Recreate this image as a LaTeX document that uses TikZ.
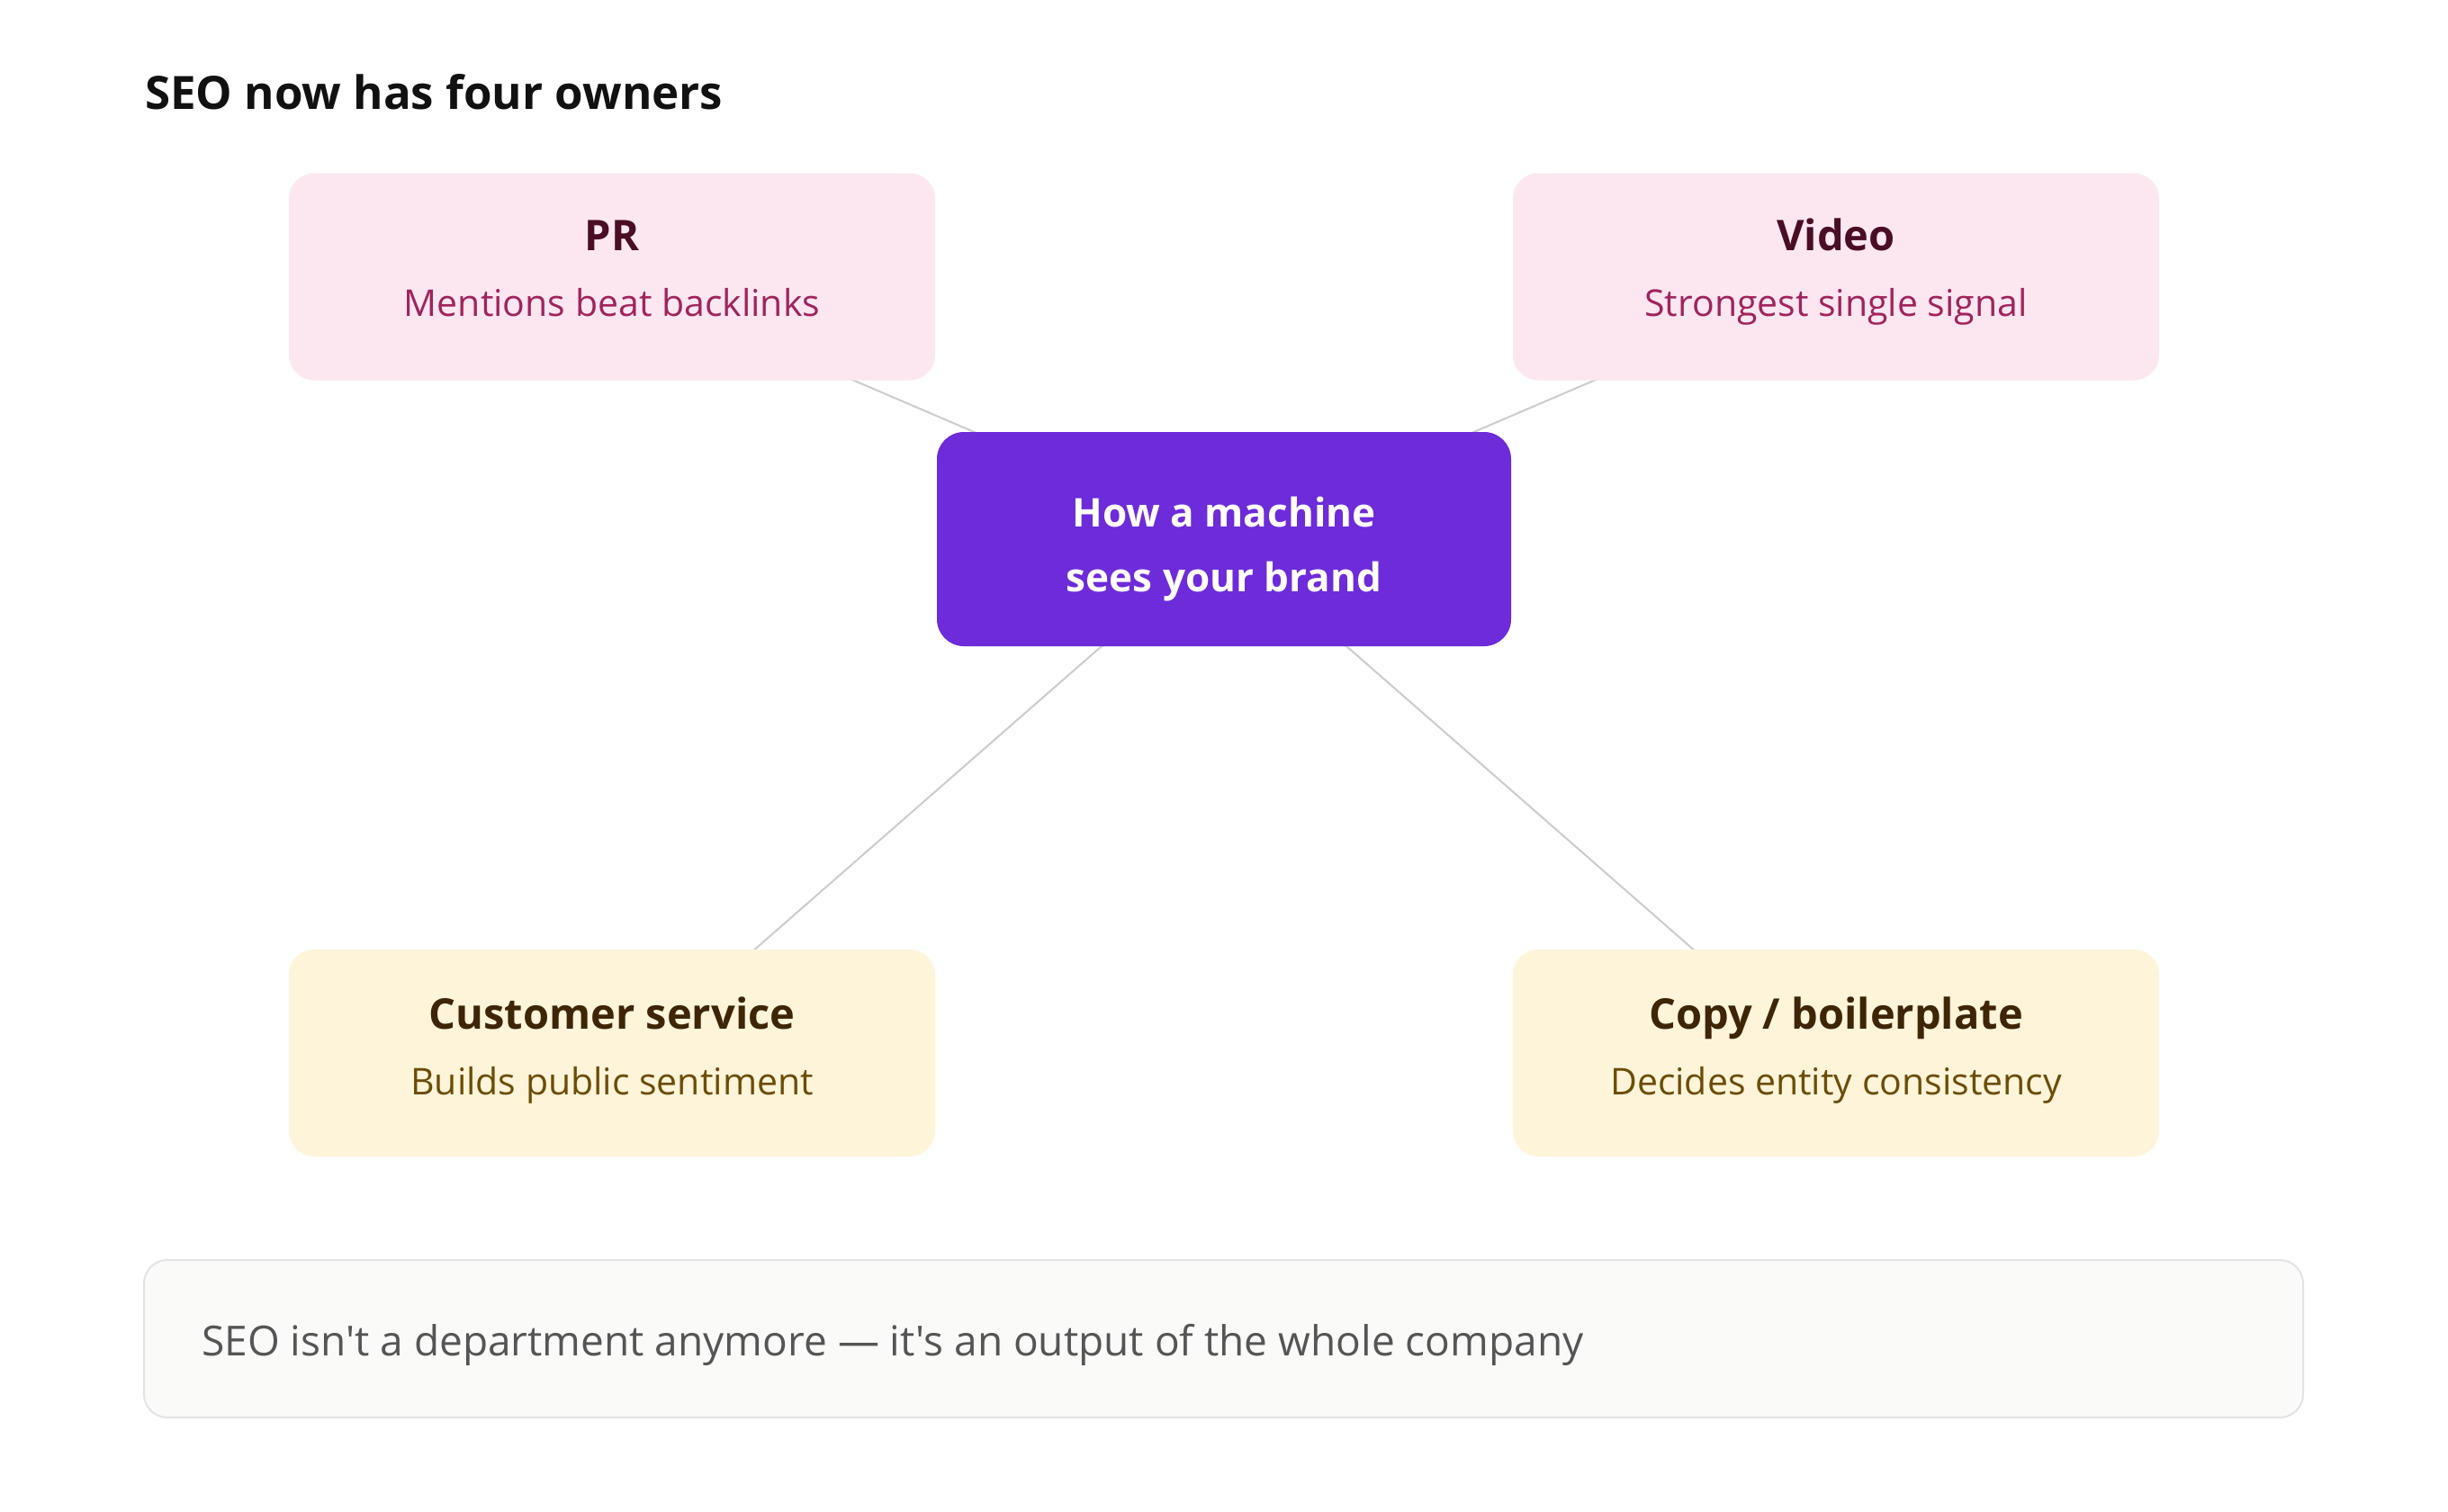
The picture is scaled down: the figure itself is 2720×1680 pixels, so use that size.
\documentclass[tikz,border=0pt]{standalone}
\usepackage{fontspec}
\setmainfont{Open Sans}[Ligatures=TeXOff]
\usetikzlibrary{backgrounds,calc}
\definecolor{pinkfill}{HTML}{FCE7F1}
\definecolor{pinktitle}{HTML}{4A0D26}
\definecolor{pinksub}{HTML}{A0245C}
\definecolor{yelfill}{HTML}{FEF4DA}
\definecolor{yeltitle}{HTML}{3D2506}
\definecolor{yelsub}{HTML}{6B4D06}
\definecolor{hubfill}{HTML}{6D2BD9}
\definecolor{linkcol}{HTML}{CCCCCC}
\definecolor{notefill}{HTML}{FAFAF9}
\definecolor{notedraw}{HTML}{E3E3E3}
\definecolor{notetext}{HTML}{555555}
\definecolor{titlecol}{HTML}{111111}
\tikzset{
  box/.style={rectangle, rounded corners=28pt, minimum width=718pt, minimum height=230pt, inner sep=0pt, draw=none},
  pinkbox/.style={box, fill=pinkfill},
  yelbox/.style={box, fill=yelfill},
  hub/.style={rectangle, rounded corners=30pt, minimum width=638pt, minimum height=238pt, inner sep=0pt, fill=hubfill},
  ttl/.style={anchor=base, inner sep=0pt, font=\fontsize{47}{56}\selectfont\bfseries},
  sub/.style={anchor=base, inner sep=0pt, font=\fontsize{41}{50}\selectfont},
  hubtxt/.style={anchor=base, inner sep=0pt, text=white, font=\fontsize{44}{54}\selectfont\bfseries},
  link/.style={draw=linkcol, line width=2pt},
}
\begin{document}
\begin{tikzpicture}[x=1pt,y=-1pt]
\useasboundingbox (0,0) rectangle (2720,1680);
\node[anchor=base west, inner sep=0pt, text=titlecol, font=\fontsize{51}{60}\selectfont\bfseries] (title) at (161,122) {SEO now has four owners};

\node[pinkbox] (pr) at (680,307.5) {};
\node[pinkbox] (video) at (2040,307.5) {};
\node[hub] (hubn) at (1360,599) {};
\node[yelbox] (cs) at (680,1170) {};
\node[yelbox] (copy) at (2040,1170) {};

\begin{scope}[on background layer]
\fill[white] (0,0) rectangle (2720,1680);
\draw[link] (hubn.center) -- (pr.center);
\draw[link] (hubn.center) -- (video.center);
\draw[link] (hubn.center) -- ([xshift=27pt]cs.center);
\draw[link] (hubn.center) -- ([xshift=-27pt]copy.center);
\end{scope}

\node[ttl, text=pinktitle] (prt) at ($(pr.center)+(0,-28.5)$) {PR};
\node[sub, text=pinksub] (prs) at ($(pr.center)+(0,44.5)$) {Mentions beat backlinks};
\node[ttl, text=pinktitle] (vt) at ($(video.center)+(0,-28.5)$) {Video};
\node[sub, text=pinksub] (vs) at ($(video.center)+(0,44.5)$) {Strongest single signal};

\node[hubtxt] (h1) at ($(hubn.center)+(0,-14)$) {How a machine};
\node[hubtxt] (h2) at ($(hubn.center)+(0,58)$) {sees your brand};

\node[ttl, text=yeltitle] (cst) at ($(cs.center)+(0,-27)$) {Customer service};
\node[sub, text=yelsub] (css) at ($(cs.center)+(0,46)$) {Builds public sentiment};
\node[ttl, text=yeltitle] (cpt) at ($(copy.center)+(0,-27)$) {Copy / boilerplate};
\node[sub, text=yelsub] (cps) at ($(copy.center)+(0,46)$) {Decides entity consistency};

\node[rectangle, rounded corners=26pt, draw=notedraw, line width=2pt, fill=notefill, minimum width=2399pt, minimum height=175pt, inner sep=0pt] (note) at (1359.5,1487.5) {};
\node[anchor=base west, inner sep=0pt, text=notetext, font=\fontsize{46}{54}\selectfont] (notet) at (224,1506) {SEO isn't a department anymore — it's an output of the whole company};
\end{tikzpicture}
\end{document}
